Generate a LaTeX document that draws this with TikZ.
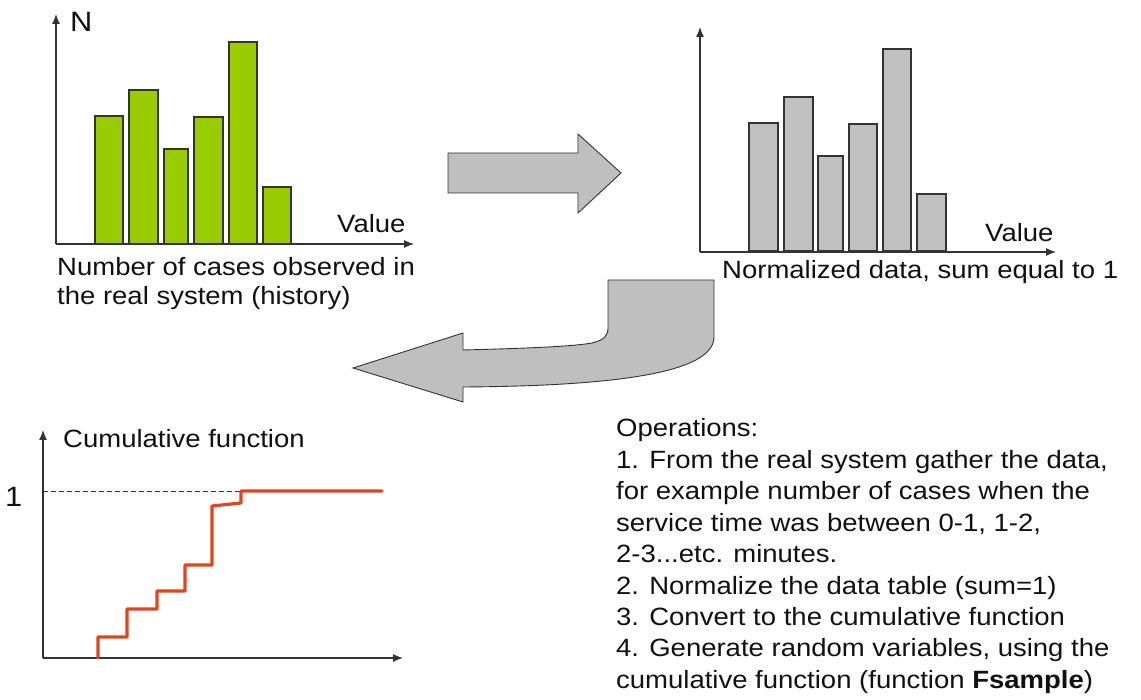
\documentclass[tikz,border=0pt]{standalone}
\usepackage{fontspec}
\setmainfont{Liberation Sans}[FakeStretch=1.1]
\usetikzlibrary{arrows.meta}
\definecolor{barGreen}{HTML}{99CC00}
\definecolor{barGray}{HTML}{C0C0C0}
\definecolor{arrowGray}{HTML}{BFBFBF}
\definecolor{lineDark}{HTML}{333333}
\definecolor{textDark}{HTML}{111111}
\definecolor{stepRed}{HTML}{E0461E}
\tikzset{
  axis/.style={draw=lineDark, line width=1.2pt, -{Latex[length=10pt,width=8pt]}},
  greenbar/.style={draw=lineDark, line width=1.1pt, fill=barGreen},
  graybar/.style={draw=lineDark, line width=1.1pt, fill=barGray},
  bigarrow/.style={draw=lineDark, line width=0.9pt, fill=arrowGray, line join=miter},
  lbl/.style={anchor=base west, inner sep=0pt, text=textDark, font=\fontsize{25}{30}\selectfont},
  biglbl/.style={lbl, font=\fontsize{28}{32}\selectfont},
  stepline/.style={draw=stepRed, line width=3.2pt, line join=round, line cap=round},
  levelline/.style={draw=lineDark, line width=0.9pt, dashed, dash pattern=on 5pt off 3pt}
}
\begin{document}
\begin{tikzpicture}[x=1pt,y=-1pt]
\useasboundingbox (0,0) rectangle (1141,700);
\fill[white] (0,0) rectangle (1141,700);

% ---------- chart 1: history ----------
\coordinate (o1) at (56,244);
\coordinate (y1) at (56,14);
\coordinate (x1) at (414,244);
\draw[greenbar] (95,244) rectangle (123,116);
\draw[greenbar] (129,244) rectangle (158,90);
\draw[greenbar] (164,244) rectangle (188,149);
\draw[greenbar] (194,244) rectangle (223,117);
\draw[greenbar] (229,244) rectangle (257,42);
\draw[greenbar] (263,244) rectangle (291,187);
\draw[axis] (o1) -- (y1);
\draw[axis] (o1) -- (x1);
\node[biglbl] (n1) at (70,32) {N};
\node[lbl] (v1) at (337,233) {Value};
\node[lbl] (c1a) at (57,276) {Number of cases observed in};
\node[lbl] (c1b) at (57,305) {the real system (history)};

% ---------- chart 2: normalized ----------
\coordinate (o2) at (700,252);
\coordinate (y2) at (700,27);
\coordinate (x2) at (1056,252);
\draw[graybar] (749,251) rectangle (778,123);
\draw[graybar] (784,251) rectangle (813,97);
\draw[graybar] (818,251) rectangle (843,156);
\draw[graybar] (849,251) rectangle (877,124);
\draw[graybar] (883,251) rectangle (911,49);
\draw[graybar] (917,251) rectangle (946,194);
\draw[axis] (o2) -- (y2);
\draw[axis] (o2) -- (x2);
\node[lbl] (v2) at (985,242) {Value};
\node[lbl] (c2) at (722,279) {Normalized data, sum equal to 1};

% ---------- big arrows ----------
\draw[bigarrow] (448,153) -- (578,153) -- (578,134) -- (621,173) -- (578,213)
  -- (578,193) -- (448,193) -- cycle;
\draw[bigarrow] (608,280) -- (714,280) -- (714,337)
  .. controls (714,372) and (620,386) .. (463,387)
  -- (463,402) -- (353,368) -- (463,333) -- (463,350)
  .. controls (540,348) and (575,346) .. (592,343)
  .. controls (604,340) and (608,336) .. (608,328) -- cycle;

% ---------- chart 3: cumulative ----------
\coordinate (o3) at (43,658);
\coordinate (y3) at (43,430);
\coordinate (x3) at (403,658);
\coordinate (lvlEnd) at (382,491);
\draw[axis] (o3) -- (y3);
\draw[axis] (o3) -- (x3);
\draw[levelline] (43,491) -- (lvlEnd);
\draw[stepline] (98,658) -- (98,637) -- (127,637) -- (127,609) -- (157,609)
  -- (157,591) -- (185,591) -- (185,565) -- (212,565) -- (212,506)
  -- (241,503) -- (241,491) -- (lvlEnd);
\node[lbl] (c3) at (63,448) {Cumulative function};
\node[biglbl] (one) at (5,507) {1};

% ---------- operations text ----------
\node[lbl] (op0) at (616,437) {Operations:};
\node[lbl] (op1) at (616,468.4) {1. From the real system gather the data,};
\node[lbl] (op2) at (616,499.8) {for example number of cases when the};
\node[lbl] (op3) at (616,531.2) {service time was between 0-1, 1-2,};
\node[lbl] (op4) at (616,562.6) {2-3...etc. minutes.};
\node[lbl] (op5) at (616,594) {2. Normalize the data table (sum=1)};
\node[lbl] (op6) at (616,625.4) {3. Convert to the cumulative function};
\node[lbl] (op7) at (616,656.8) {4. Generate random variables, using the};
\node[lbl] (op8) at (616,688.2) {cumulative function (function \textbf{Fsample})};
\end{tikzpicture}
\end{document}
